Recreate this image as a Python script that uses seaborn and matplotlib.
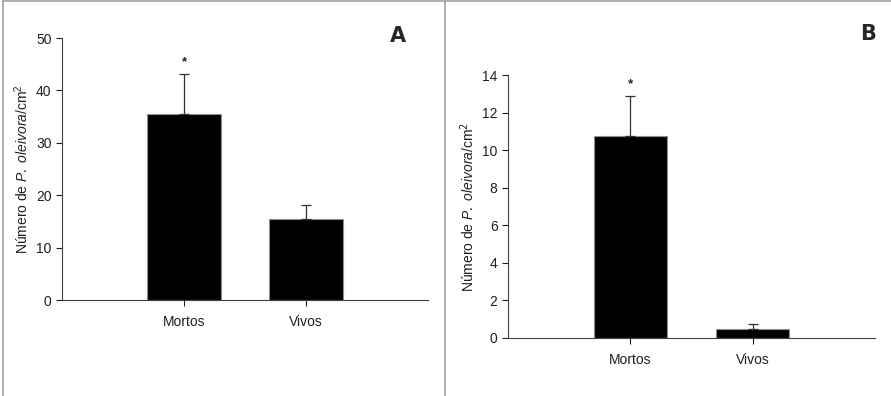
import numpy as np
import pandas as pd
import seaborn as sns
import matplotlib.pyplot as plt
from matplotlib.lines import Line2D

#---------------------------------data
categorias = ["Mortos", "Vivos"]
media_a = [35.5, 15.4]
erro_a = [7.7, 2.8]
media_b = [10.75, 0.5]
erro_b = [2.15, 0.22]
sig = ["*", ""]

sns.set_theme(style="ticks")
plt.rcParams["font.family"] = ["Liberation Sans", "DejaVu Sans"]
plt.rcParams["mathtext.fontset"] = "custom"
plt.rcParams["mathtext.rm"] = "Liberation Sans"
plt.rcParams["mathtext.it"] = "Liberation Sans:italic"

fig = plt.figure(figsize=(8.91, 3.96), dpi=100)
ax_a = fig.add_axes([0.0696, 0.2424, 0.4108, 0.6616])
ax_b = fig.add_axes([0.5701, 0.1465, 0.4119, 0.6641])

# cell borders like the original table layout
for xs, ys in [([0.0034, 0.0034], [0, 0.997]), ([0.4994, 0.4994], [0, 0.997]),
               ([0.0034, 1.0], [0.997, 0.997])]:
    fig.add_artist(Line2D(xs, ys, color="#a0a0a0", lw=1.2, transform=fig.transFigure))


def painel(ax, medias, erros, ymax, passo, marca_y, rotulo):
    df = pd.DataFrame({"cat": categorias, "val": medias})
    sns.barplot(data=df, x="cat", y="val", color="black", width=0.6,
                saturation=1, edgecolor="#909090", linewidth=0.8, ax=ax)
    x = np.arange(len(categorias))
    ax.errorbar(x, medias, yerr=[np.zeros(len(erros)), erros], fmt="none",
                ecolor="#303030", elinewidth=0.9, capsize=3.3, capthick=0.9)
    for i, s in enumerate(sig):
        if s:
            ax.text(x[i], marca_y, s, ha="center", va="center", fontsize=9.5, fontweight="bold")
    ax.set_xlim(-1, 2)
    ax.set_ylim(0, ymax)
    ax.set_yticks(np.arange(0, ymax + 0.01, passo))
    ax.set_xlabel("")
    ax.set_ylabel(rotulo, fontsize=10, color="#202020")
    ax.tick_params(axis="both", labelsize=10, colors="#202020", length=4, width=0.8, direction="out")
    ax.tick_params(axis="x", pad=7)
    for sp in ["top", "right"]:
        ax.spines[sp].set_visible(False)
    for sp in ["left", "bottom"]:
        ax.spines[sp].set_color("#404040")
        ax.spines[sp].set_linewidth(0.8)
    return ax


painel(ax_a, media_a, erro_a, 50, 10, 45.4,
       r"Número de $\it{P.\ oleivora}$/cm$^{2}$")
painel(ax_b, media_b, erro_b, 14, 2, 13.5,
       r"Número de $\it{P.\ oleivora}$/cm$^{\mathsf{2}}$")

fig.text(0.4467, 0.910, "A", fontsize=15, fontweight="bold", ha="center", va="center", family="DejaVu Sans")
fig.text(0.974, 0.913, "B", fontsize=15, fontweight="bold", ha="center", va="center", family="DejaVu Sans")

ax_a.yaxis.set_label_coords(-0.084, 0.5)
ax_b.yaxis.set_label_coords(-0.084, 0.5)

fig.savefig("out.png", dpi=100)
